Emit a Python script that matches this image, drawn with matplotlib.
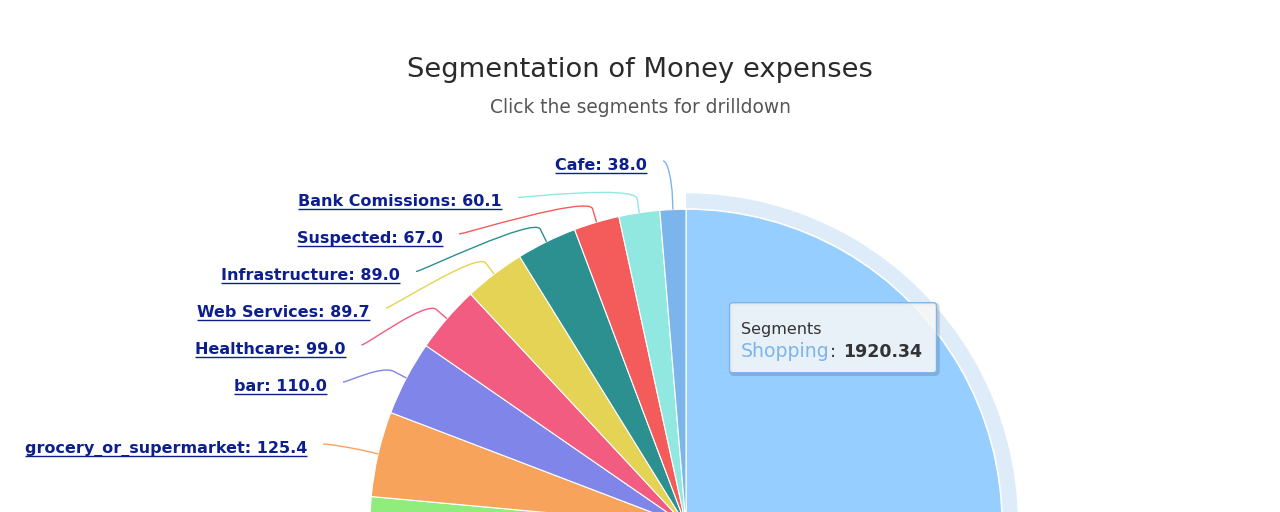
import matplotlib
matplotlib.use("Agg")
import matplotlib.pyplot as plt
from matplotlib.patches import Wedge, FancyBboxPatch, PathPatch
from matplotlib.path import Path
import numpy as np

# ---------------- data (clockwise from 12 o'clock) ----------------
categories = ["Shopping", "Other", "Miscellaneous", "grocery_or_supermarket", "bar",
              "Healthcare", "Web Services", "Infrastructure", "Suspected",
              "Bank Comissions", "Cafe"]
values = [1920.34, 141.5, 140.0, 125.4, 110.0, 99.0, 89.7, 89.0, 67.0, 60.1, 38.0]
colors = ["#95ceff", "#434348", "#90ed7d", "#f7a35c", "#8085e9", "#f15c80",
          "#e4d354", "#2b908f", "#f45b5b", "#91e8e1", "#7cb5ec"]
labeled = ["grocery_or_supermarket", "bar", "Healthcare", "Web Services",
           "Infrastructure", "Suspected", "Bank Comissions", "Cafe"]
title = "Segmentation of Money expenses"
subtitle = "Click the segments for drilldown"
tooltip_header = "Segments"
tooltip_point = "Shopping"

# ---------------- layout (image pixel coordinates, y down) ----------------
W, H = 1280, 512
label_right = [307, 327, 345.5, 370, 400, 443, 502, 647]
label_base = [453, 391, 354, 317, 280.5, 243, 206.5, 170]

def Y(y):
    return H - y

fig = plt.figure(figsize=(12.8, 5.12), dpi=100)
ax = fig.add_axes([0, 0, 1, 1])
cx, cy, R = 686, Y(525.3), 316

wedges, _ = ax.pie(values, colors=colors, startangle=90, counterclock=False,
                   center=(cx, cy), radius=R,
                   wedgeprops=dict(edgecolor="white", linewidth=0.8))
ax.set_xlim(0, W)
ax.set_ylim(0, H)
ax.set_aspect("auto")
ax.axis("off")

# hover halo around Shopping
w0 = wedges[0]
halo = Wedge((cx, cy), R + 16, w0.theta1, w0.theta2, width=15,
             facecolor="#7cb5ec", alpha=0.25, edgecolor="none", zorder=0.5)
ax.add_patch(halo)

# titles
ax.text(640, Y(77), title, ha="center", va="baseline", fontsize=19.7,
        color="#2a2a2a", family="DejaVu Sans")
ax.text(640, Y(113), subtitle, ha="center", va="baseline", fontsize=13.4,
        color="#555555", family="DejaVu Sans")

# data labels with soft connectors
label_color = "#0d1f8f"
texts = []
for name, xr, yb in zip(labeled, label_right, label_base):
    i = categories.index(name)
    w = wedges[i]
    mid = np.deg2rad((w.theta1 + w.theta2) / 2)
    d = np.array([np.cos(mid), np.sin(mid)])
    E = np.array([cx, cy]) + R * d
    B = np.array([cx, cy]) + (R + 14) * d
    S = np.array([xr + 16, Y(yb - 9)])
    C1 = S + np.array([5, 0])
    C2 = 2 * B - E
    path = Path([S, C1, C2, B, E],
                [Path.MOVETO, Path.CURVE4, Path.CURVE4, Path.CURVE4, Path.LINETO])
    ax.add_patch(PathPatch(path, facecolor="none", edgecolor=colors[i],
                           linewidth=1.0, zorder=3))
    t = ax.text(xr, Y(yb), f"{name}: {values[i]:.1f}", ha="right", va="baseline",
                fontsize=11.5, fontweight="bold", color=label_color,
                family="DejaVu Sans", zorder=4)
    texts.append((t, yb))

# tooltip
tx0, ty0, tx1, ty1 = 729.5, 302.7, 936.5, 372.7
shadow = FancyBboxPatch((tx0 + 1.5, Y(ty1) - 1.5), tx1 - tx0, ty1 - ty0,
                        boxstyle="round,pad=0,rounding_size=3",
                        facecolor="none", edgecolor=(0, 0, 0, 0.15),
                        linewidth=2.5, zorder=5)
ax.add_patch(shadow)
box = FancyBboxPatch((tx0, Y(ty1)), tx1 - tx0, ty1 - ty0,
                     boxstyle="round,pad=0,rounding_size=3",
                     facecolor=(0.969, 0.969, 0.969, 0.85), edgecolor="#7cb5ec",
                     linewidth=1.0, zorder=6)
ax.add_patch(box)
ax.text(741, Y(334), tooltip_header, ha="left", va="baseline", fontsize=11.5,
        color="#333333", zorder=7)
pt = ax.text(741, Y(357), tooltip_point, ha="left", va="baseline", fontsize=13.6,
             color="#7cb5ec", zorder=7)
ax.text(843, Y(357), f"{values[0]:.2f}", ha="left", va="baseline", fontsize=12.5,
        fontweight="bold", color="#333333", zorder=7)

# underline the drilldown labels; place the tooltip colon right after the name
fig.canvas.draw()
rend = fig.canvas.get_renderer()
pbb = pt.get_window_extent(rend)
ax.text(pbb.x1 + 0.5, Y(357), ":", ha="left", va="baseline", fontsize=13,
        color="#333333", zorder=7)
for t, yb in texts:
    bb = t.get_window_extent(rend)
    ax.plot([bb.x0, bb.x1], [Y(yb + 2.5), Y(yb + 2.5)], color=label_color,
            linewidth=1.0, solid_capstyle="butt", zorder=4)

fig.savefig("out.png", dpi=100, facecolor="white")
